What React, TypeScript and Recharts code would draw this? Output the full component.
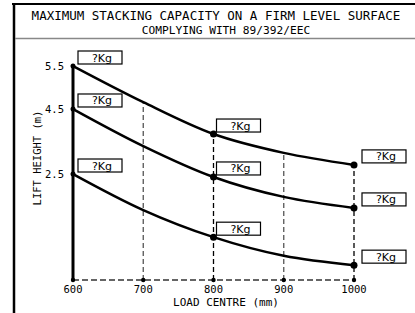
import React from 'react'
import { LineChart, Line, XAxis, YAxis, ReferenceLine } from 'recharts'

// load centre (mm)
const loadCentres = [600, 700, 800, 900, 1000]
// lift height (m) for each of the three curves
const upperCurve = [5.5, 4.66, 3.73, 3.15, 2.78]
const middleCurve = [4.5, 3.36, 2.43, 1.96, 1.7]
const lowerCurve = [2.5, 1.65, 1.01, 0.57, 0.35]

const xTicks = [600, 700, 800, 900, 1000]
const yTicks = [2.5, 4.5, 5.5]
const markedCentres = [600, 800, 1000]
const capacityLabel = '?Kg'

const MONO = '"DejaVu Sans Mono", monospace'
const SANS = '"DejaVu Sans", sans-serif'

const data = loadCentres.map((x, i) => ({
  x,
  upper: upperCurve[i],
  middle: middleCurve[i],
  lower: lowerCurve[i],
}))

// the drawing's height axis is not linear: piecewise scale between the marked heights
const knotValues = [0, 2.5, 4.5, 5.5]
const knotFractions = [0, 0.4953, 0.7991, 1]

function piecewiseScale(): any {
  let dom: number[] = [0, 5.5]
  let rng: number[] = [0, 1]
  const toFraction = (v: number) => {
    const n = knotValues.length
    for (let i = 0; i < n - 1; i++) {
      if (v <= knotValues[i + 1] || i === n - 2) {
        const f = (v - knotValues[i]) / (knotValues[i + 1] - knotValues[i])
        return knotFractions[i] + f * (knotFractions[i + 1] - knotFractions[i])
      }
    }
    return 0
  }
  const scale: any = (v: number) => rng[0] + toFraction(v) * (rng[1] - rng[0])
  scale.domain = (d?: number[]) => {
    if (d === undefined) return dom.slice()
    dom = d.slice()
    return scale
  }
  scale.range = (r?: number[]) => {
    if (r === undefined) return rng.slice()
    rng = r.slice()
    return scale
  }
  scale.copy = () => piecewiseScale().domain(dom).range(rng)
  scale.ticks = () => yTicks
  return scale
}

const heightScale = piecewiseScale()

function CurveDot(props: any) {
  const { cx, cy, payload } = props
  if (cx == null || cy == null || !markedCentres.includes(payload.x)) return <g />
  const first = payload.x === loadCentres[0]
  const last = payload.x === loadCentres[loadCentres.length - 1]
  const bx = cx + (last ? 8 : first ? 5 : 3)
  const by = cy - 15
  return (
    <g>
      <circle cx={cx} cy={cy} r={first ? 2.5 : 3.5} fill="#000" />
      <rect x={bx} y={by} width={44} height={13} fill="#fff" stroke="#000" strokeWidth={1.2} />
      <text x={bx + 14} y={by + 10.5} fontSize={11} fontFamily={SANS} fill="#000">
        {capacityLabel}
      </text>
    </g>
  )
}

function XTick(props: any) {
  const { x, y, payload } = props
  return (
    <g>
      <circle cx={x} cy={y} r={2.2} fill="#000" />
      <text x={x} y={y + 13} textAnchor="middle" fontSize={10.5} fontFamily={MONO} fill="#000">
        {payload.value}
      </text>
    </g>
  )
}

function YTick(props: any) {
  const { x, y, payload } = props
  return (
    <text x={x - 9} y={y + 4} textAnchor="end" fontSize={10.5} fontFamily={MONO} fill="#000">
      {payload.value}
    </text>
  )
}

export default function App() {
  const series = [
    { key: 'upper', values: upperCurve },
    { key: 'middle', values: middleCurve },
    { key: 'lower', values: lowerCurve },
  ]
  return (
    <div style={{ position: 'absolute', left: 0, top: 0, width: 415, height: 313, background: '#fff' }}>
      <LineChart
        width={415}
        height={313}
        data={data}
        margin={{ top: 66, right: 61, bottom: 3, left: 13 }}
      >
        <XAxis
          dataKey="x"
          type="number"
          domain={[600, 1000]}
          ticks={xTicks}
          tickSize={0}
          tickMargin={0}
          tickLine={false}
          height={30}
          axisLine={{ stroke: '#333', strokeWidth: 1.5, strokeDasharray: '6 3' }}
          tick={<XTick />}
        />
        <YAxis
          type="number"
          domain={[0, 5.5]}
          scale={heightScale}
          ticks={yTicks}
          width={60}
          tickSize={0}
          tickMargin={0}
          tickLine={false}
          axisLine={{ stroke: '#000', strokeWidth: 3 }}
          tick={<YTick />}
        />
        {loadCentres.slice(1).map((x, i) => (
          <ReferenceLine
            key={x}
            segment={[
              { x, y: 0 },
              { x, y: upperCurve[i + 1] },
            ]}
            stroke={x % 200 === 0 ? '#000' : '#555'}
            strokeWidth={1.3}
            strokeDasharray="5 3"
            ifOverflow="visible"
          />
        ))}
        {series.map((s) => (
          <Line
            key={s.key}
            dataKey={s.key}
            type="monotone"
            stroke="#000"
            strokeWidth={2.5}
            dot={(p: any) => <CurveDot key={`${s.key}-${p.index}`} {...p} />}
            activeDot={false}
            isAnimationActive={false}
          />
        ))}
      </LineChart>
      <svg
        width={415}
        height={313}
        style={{ position: 'absolute', left: 0, top: 0, pointerEvents: 'none' }}
      >
        <line x1={12} y1={4} x2={415} y2={4} stroke="#000" strokeWidth={2} />
        <line x1={14} y1={3} x2={14} y2={313} stroke="#000" strokeWidth={2.5} />
        <line x1={15} y1={38.5} x2={415} y2={38.5} stroke="#888" strokeWidth={1.3} />
        <text x={216} y={19.5} textAnchor="middle" fontSize={12.5} fontFamily={MONO} fill="#000">
          MAXIMUM STACKING CAPACITY ON A FIRM LEVEL SURFACE
        </text>
        <text x={226} y={34} textAnchor="middle" fontSize={11.2} fontFamily={MONO} fill="#000">
          COMPLYING WITH 89/392/EEC
        </text>
        <text
          x={41}
          y={158}
          textAnchor="middle"
          fontSize={10.5}
          fontFamily={MONO}
          fill="#000"
          transform="rotate(-90 41 158)"
        >
          LIFT HEIGHT (m)
        </text>
        <text x={226} y={306} textAnchor="middle" fontSize={11} fontFamily={MONO} fill="#000">
          LOAD CENTRE (mm)
        </text>
      </svg>
    </div>
  )
}
